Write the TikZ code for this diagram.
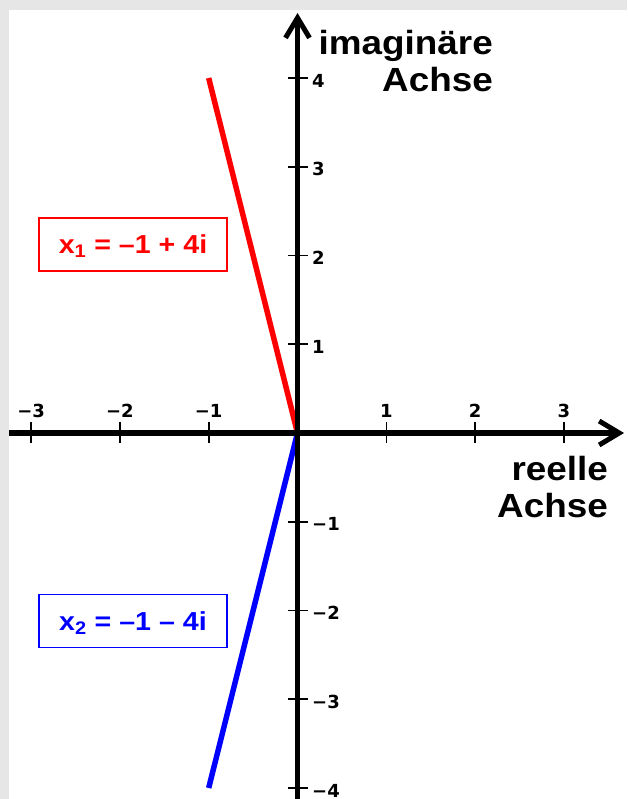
\documentclass[tikz,border=0pt]{standalone}
\usepackage{fontspec}
\setmainfont{Liberation Sans}
\newfontfamily\tickfont{DejaVu Sans}
\usetikzlibrary{arrows.meta}
\definecolor{bggray}{HTML}{E6E6E6}
\begin{document}
\begin{tikzpicture}[x=1pt,y=-1pt,
  axisline/.style={line width=5.5pt,-{Straight Barb[length=20pt,width=24pt,line width=5pt]}},
  tickmark/.style={line width=1.6pt},
  ticklabel/.style={font=\tickfont\bfseries\fontsize{18}{20}\selectfont,inner sep=0pt},
  axistitle/.style={font=\bfseries\fontsize{33.5}{37}\selectfont,inner sep=0pt},
  solline/.style={line width=5.5pt},
  solbox/.style={draw,line width=1.5pt,minimum width=188pt,minimum height=53pt,inner sep=0pt,
    text height=18.5pt,text depth=0pt,font=\bfseries\fontsize{26}{29}\selectfont}]
  \fill[bggray] (0,0) rectangle (627,799);
  \fill[white] (9,10) rectangle (627,799);
  \useasboundingbox (0,0) rectangle (627,799);
  % solution lines
  \coordinate (O) at (297.5,433);
  \coordinate (z1) at (208.7,78);
  \coordinate (z2) at (208.7,788);
  \draw[solline,red] (O) -- (z1);
  \draw[solline,blue] (O) -- (z2);
  % axes
  \coordinate (xleft) at (9,433);
  \coordinate (xright) at (624,433);
  \coordinate (ybottom) at (297.5,799);
  \coordinate (ytop) at (297.5,13);
  \draw[axisline] (xleft) -- (xright);
  \draw[axisline] (ybottom) -- (ytop);
  % x ticks
  \foreach \k/\t in {-3/−3,-2/−2,-1/−1,1/1,2/2,3/3}{
    \coordinate (xt\k) at ({297.5+88.8*\k},433);
    \draw[tickmark] ([yshift=-10pt]xt\k) -- ([yshift=11pt]xt\k);
    \node[ticklabel] (xl\k) at ({297.5+88.8*\k},411) {\t};
  }
  % y ticks
  \foreach \k/\t in {-4/−4,-3/−3,-2/−2,-1/−1,1/1,2/2,3/3,4/4}{
    \coordinate (yt\k) at (297.5,{433-88.75*\k});
    \draw[tickmark] ([xshift=-9.5pt]yt\k) -- ([xshift=10pt]yt\k);
    \node[ticklabel,anchor=west] (yl\k) at (312,{435.5-88.75*\k}) {\t};
  }
  % axis titles
  \node[axistitle,anchor=base east] (imag) at (493,55) {\scalebox{1.1}[1]{imaginäre}};
  \node[axistitle,anchor=base east] (imagb) at (493,92) {\scalebox{1.1}[1]{Achse}};
  \node[axistitle,anchor=base east] (reell) at (608,480) {\scalebox{1.1}[1]{reelle}};
  \node[axistitle,anchor=base east] (reellb) at (608,517) {\scalebox{1.1}[1]{Achse}};
  % solution boxes
  \node[solbox,red] (box1) at (133,244.5) {\scalebox{1.1}[1]{x\textsubscript{1} = –1 + 4i}};
  \node[solbox,blue] (box2) at (133,621) {\scalebox{1.1}[1]{x\textsubscript{2} = –1 – 4i}};
\end{tikzpicture}
\end{document}
